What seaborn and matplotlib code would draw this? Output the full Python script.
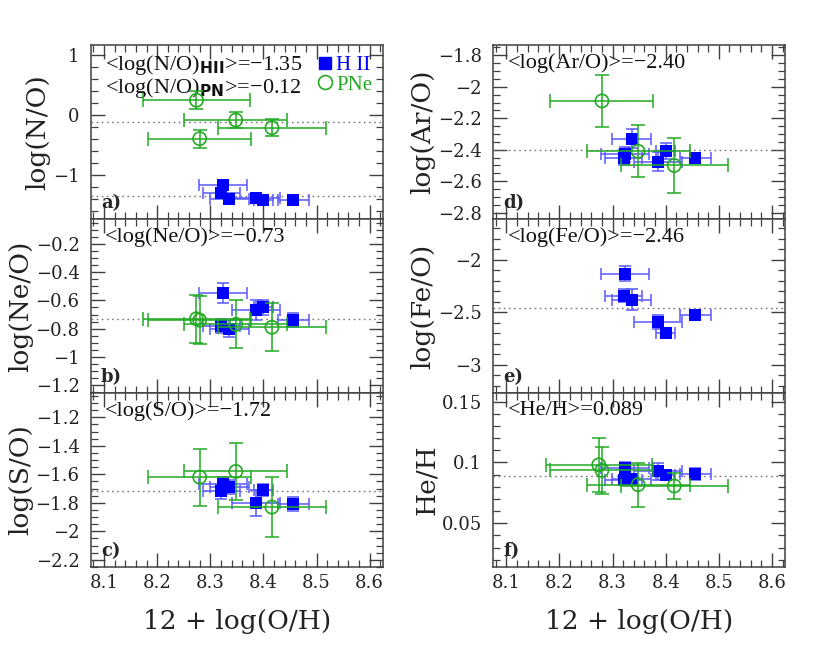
import numpy as np
import pandas as pd
import matplotlib
matplotlib.use("Agg")
import matplotlib.pyplot as plt
from matplotlib.ticker import MultipleLocator, FuncFormatter
from matplotlib.lines import Line2D
import seaborn as sns

# 12 + log(O/H) for the H II regions and the planetary nebulae
hii_oh = [8.324, 8.321, 8.336, 8.386, 8.400, 8.456]
hii_oh_err = [0.045, 0.035, 0.037, 0.045, 0.018, 0.029]
pn_oh = [8.274, 8.280, 8.348, 8.416]
pn_oh_err = [0.100, 0.097, 0.097, 0.101]

# abundance ratios (nan = not measured)
hii_no = [-1.17, -1.30, -1.40, -1.38, -1.42, -1.42]
hii_no_err = [0.05, 0.05, 0.04, 0.04, 0.04, 0.03]
pn_no = [0.25, -0.39, -0.08, -0.21]
pn_no_err = [0.15, 0.15, 0.14, 0.14]

hii_neo = [-0.55, -0.78, -0.80, -0.67, -0.65, -0.74]
hii_neo_err = [0.07, 0.05, 0.06, 0.07, 0.05, 0.05]
pn_neo = [-0.73, -0.74, -0.77, -0.79]
pn_neo_err = [0.17, 0.17, 0.17, 0.17]

hii_so = [-1.67, -1.72, -1.69, -1.80, -1.71, -1.81]
hii_so_err = [0.05, 0.05, 0.05, 0.09, 0.04, 0.05]
pn_so = [np.nan, -1.62, -1.58, -1.83]
pn_so_err = [np.nan, 0.20, 0.20, 0.21]

hii_aro = [-2.43, -2.45, -2.33, -2.475, -2.41, -2.45]
hii_aro_err = [0.05, 0.05, 0.06, 0.06, 0.05, 0.03]
pn_aro = [np.nan, -2.09, -2.41, -2.50]
pn_aro_err = [np.nan, 0.165, 0.165, 0.175]

hii_feo = [-2.13, -2.34, -2.38, -2.59, -2.70, -2.53]
hii_feo_err = [0.07, 0.065, 0.10, 0.065, 0.04, 0.04]

hii_heh = [0.0957, 0.0852, 0.086, 0.0926, 0.0893, 0.0907]
hii_heh_err = [0.005, 0.004, 0.004, 0.007, 0.004, 0.005]
pn_heh = [0.098, 0.0934, 0.0817, 0.0806]
pn_heh_err = [0.022, 0.019, 0.018, 0.011]

BLUE = "#0000ff"
BLUE_BAR = "#5a5aff"
GREEN = "#22aa22"
FRAME = "#404040"
TEXT = "#222222"


def fmt_tick(v, pos):
    s = "%g" % round(v, 4)
    return s.replace("-", "\u2212")


def draw_panel(ax, hy, hyerr, py, pyerr, mean, ylim, major, minor, ylabel, tag, note):
    # error bars first, markers on top
    ax.errorbar(hii_oh, hy, xerr=hii_oh_err, yerr=hyerr, fmt="none",
                ecolor=BLUE_BAR, elinewidth=1.1, capsize=4, capthick=1.1, zorder=3)
    sns.scatterplot(x=hii_oh, y=hy, ax=ax, marker="s", s=75, color=BLUE,
                    edgecolor=BLUE, linewidth=0, zorder=4)
    if py is not None:
        ax.errorbar(pn_oh, py, xerr=pn_oh_err, yerr=pyerr, fmt="none",
                    ecolor=GREEN, elinewidth=1.1, capsize=5, capthick=1.1, zorder=5)
        sns.scatterplot(x=pn_oh, y=py, ax=ax, marker="o", s=90, facecolor="none",
                        edgecolor=GREEN, linewidth=1.2, zorder=6)
    for m in mean:
        ax.axhline(m, color="#777777", ls=(0, (1.2, 2.5)), lw=1.0, zorder=1)

    ax.set_xlim(8.075, 8.625)
    ax.set_ylim(*ylim)
    ax.xaxis.set_major_locator(MultipleLocator(0.1))
    ax.xaxis.set_minor_locator(MultipleLocator(0.02))
    ax.yaxis.set_major_locator(MultipleLocator(major))
    ax.yaxis.set_minor_locator(MultipleLocator(minor))
    ax.yaxis.set_major_formatter(FuncFormatter(fmt_tick))
    ax.xaxis.set_major_formatter(FuncFormatter(fmt_tick))
    ax.tick_params(which="both", direction="in", top=True, right=True,
                   color=FRAME, labelsize=13, labelcolor=TEXT)
    ax.tick_params(which="major", length=10, width=1.0)
    ax.tick_params(which="minor", length=5, width=0.9)
    ax.tick_params(axis="y", which="major", pad=8)
    ax.tick_params(axis="x", which="major", pad=5)
    for sp in ax.spines.values():
        sp.set_color(FRAME)
        sp.set_linewidth(1.1)
    ax.set_ylabel(ylabel, fontsize=19, color=TEXT, labelpad=2)
    ax.set_xlabel("")
    ax.text(0.035, 0.04, tag, transform=ax.transAxes, fontsize=13,
            fontweight="bold", ha="left", va="bottom", family="DejaVu Serif")
    ax.text(0.05, 0.955, note, transform=ax.transAxes, fontsize=16,
            ha="left", va="top", linespacing=0.95, family="Liberation Serif",
            color="#111111")


def main():
    sns.set_theme(style="ticks")
    plt.rcParams["font.family"] = ["DejaVu Serif"]
    plt.rcParams["mathtext.fontset"] = "custom"
    plt.rcParams["mathtext.bf"] = "DejaVu Sans:bold"

    fig = plt.figure(figsize=(8.3, 6.48), dpi=100)
    lefts = [0.1093, 0.594]
    width = 0.3521
    bottoms = [0.662, 0.3935, 0.125]
    height = 0.2685
    axs = [[fig.add_axes([l, b, width, height]) for b in bottoms] for l in lefts]

    a, b, c = axs[0]
    d, e, f = axs[1]

    draw_panel(a, hii_no, hii_no_err, pn_no, pn_no_err, [-1.35, -0.12],
               (-1.73, 1.17), 1.0, 0.2, "log(N/O)", "a)",
               "<log(N/O)$_{\\mathbf{HII}}$>=\u22121.35\n<log(N/O)$_{\\mathbf{PN}}$>=\u22120.12")
    draw_panel(b, hii_neo, hii_neo_err, pn_neo, pn_neo_err, [-0.73],
               (-1.255, -0.025), 0.2, 0.05, "log(Ne/O)", "b)", "<log(Ne/O)>=\u22120.73")
    draw_panel(c, hii_so, hii_so_err, pn_so, pn_so_err, [-1.72],
               (-2.25, -1.03), 0.2, 0.05, "log(S/O)", "c)", "<log(S/O)>=\u22121.72")
    draw_panel(d, hii_aro, hii_aro_err, pn_aro, pn_aro_err, [-2.40],
               (-2.84, -1.735), 0.2, 0.05, "log(Ar/O)", "d)", "<log(Ar/O)>=\u22122.40")
    draw_panel(e, hii_feo, hii_feo_err, None, None, [-2.46],
               (-3.27, -1.61), 0.5, 0.1, "log(Fe/O)", "e)", "<log(Fe/O)>=\u22122.46")
    draw_panel(f, hii_heh, hii_heh_err, pn_heh, pn_heh_err, [0.089],
               (0.014, 0.157), 0.05, 0.01, "He/H", "f)", "<He/H>=0.089")

    for ax in (a, b, d, e):
        ax.tick_params(labelbottom=False)
    for ax in (c, f):
        ax.set_xlabel("12 + log(O/H)", fontsize=19, color=TEXT, labelpad=12)

    handles = [
        Line2D([], [], marker="s", ls="none", color=BLUE, markersize=8),
        Line2D([], [], marker="o", ls="none", markerfacecolor="none",
               markeredgecolor=GREEN, markeredgewidth=1.2, markersize=10),
    ]
    a.legend(handles, ["H II", "PNe"], loc="upper right", frameon=False,
             labelcolor=[BLUE, GREEN], handletextpad=0.15,
             borderaxespad=0.1, labelspacing=0.0, handlelength=0.8,
             prop={"family": "Liberation Serif", "size": 15})

    fig.savefig("out.png", dpi=100)


if __name__ == "__main__":
    main()
